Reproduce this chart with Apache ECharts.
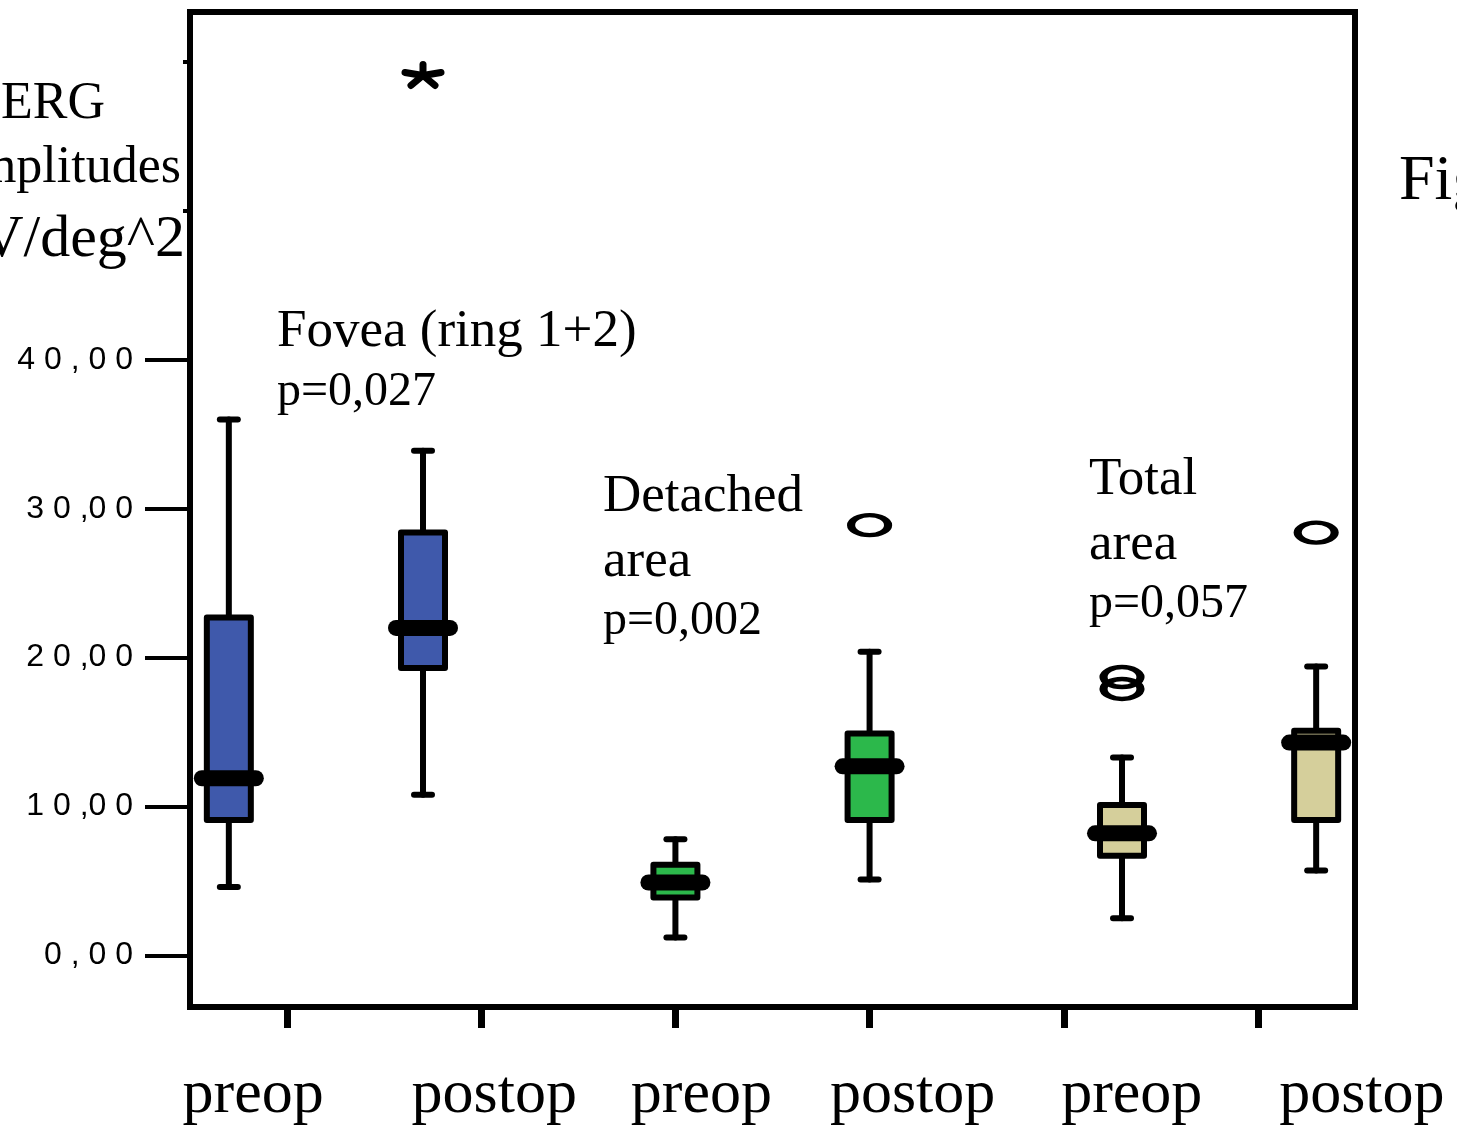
<!DOCTYPE html>
<html>
<head>
<meta charset="utf-8">
<script src="https://cdn.jsdelivr.net/npm/echarts@6/dist/echarts.min.js"></script>
<style>
	html, body { margin: 0; padding: 0; background: #fff; }
	#main { width: 1457px; height: 1130px; }
</style>
</head>
<body>
<div id="main"></div>
<script>
/* 類別與數值 */
const groups = ["preop", "postop", "preop", "postop", "preop", "postop"];
const boxPos = [0.2, 1.2, 2.5, 3.5, 4.8, 5.8];
const whiskerLow = [4.6, 10.8, 1.2, 5.1, 2.5, 5.7];
const q1 = [9.1, 19.3, 3.9, 9.1, 6.7, 9.1];
const median = [11.9, 22.0, 4.9, 12.7, 8.2, 14.3];
const q3 = [22.7, 28.4, 6.1, 14.9, 10.1, 15.1];
const whiskerHigh = [36.0, 33.9, 7.8, 20.4, 13.3, 19.4];
const outlierX = [3.5, 4.8, 4.8, 5.8];
const outlierY = [28.9, 18.7, 17.9, 28.4];
const extremeX = [1.2];
const extremeY = [59.1];
const yTickValues = [0, 10, 20, 30, 40];
const yTickLabels = ["0 , 0 0", "1 0 ,0 0", "2 0 ,0 0", "3 0 ,0 0", "4 0 , 0 0"];
const yTickMarks = [0, 10, 20, 30, 40, 50, 60];

/* 樣式 */
const boxColors = ["#3f59ab", "#3f59ab", "#2cb84b", "#2cb84b", "#d5cf9b", "#d5cf9b"];
const labelShift = [-34, 13, 26, 43, 68, 104];
const serif = "'Liberation Serif', 'Times New Roman', serif";

const chart = echarts.init(document.getElementById("main"));

const boxData = boxPos.map((x, i) => [x, whiskerLow[i], q1[i], median[i], q3[i], whiskerHigh[i]]);
const outlierData = outlierX.map((x, i) => [x, outlierY[i]]);
const extremeData = extremeX.map((x, i) => [x, extremeY[i]]);

const rich = {};
labelShift.forEach((s, i) => {
	rich["s" + i] = {
		fontFamily: serif,
		fontSize: 62,
		color: "#000",
		padding: s >= 0 ? [0, 0, 0, 2 * s] : [0, -2 * s, 0, 0],
	};
});

function renderBox(params, api) {
	const x = api.value(0);
	const lo = api.coord([x, api.value(1)]);
	const b1 = api.coord([x, api.value(2)]);
	const md = api.coord([x, api.value(3)]);
	const b3 = api.coord([x, api.value(4)]);
	const hi = api.coord([x, api.value(5)]);
	const cx = lo[0];
	const line = { stroke: "#000", lineWidth: 6, lineCap: "round" };
	return {
		type: "group",
		children: [
			{ type: "line", shape: { x1: cx, y1: lo[1], x2: cx, y2: b1[1] }, style: line },
			{ type: "line", shape: { x1: cx, y1: b3[1], x2: cx, y2: hi[1] }, style: line },
			{ type: "line", shape: { x1: cx - 9, y1: lo[1], x2: cx + 9, y2: lo[1] }, style: line },
			{ type: "line", shape: { x1: cx - 9, y1: hi[1], x2: cx + 9, y2: hi[1] }, style: line },
			{
				type: "rect",
				shape: { x: cx - 22, y: b3[1], width: 44, height: b1[1] - b3[1] },
				style: { fill: boxColors[params.dataIndex], stroke: "#000", lineWidth: 6, lineJoin: "round" },
			},
			{
				type: "rect",
				shape: { x: cx - 35, y: md[1] - 8, width: 70, height: 16, r: 8 },
				style: { fill: "#000" },
			},
		],
	};
}

function renderExtreme(params, api) {
	const p = api.coord([api.value(0), api.value(1)]);
	const arms = [[0, -11], [-18, -3], [18, -3], [-12, 10], [12, 10]];
	return {
		type: "group",
		children: arms.map((a) => ({
			type: "line",
			shape: { x1: p[0], y1: p[1], x2: p[0] + a[0], y2: p[1] + a[1] },
			style: { stroke: "#000", lineWidth: 7, lineCap: "round" },
		})),
	};
}

function txt(text, x, y, size, align) {
	return {
		type: "text",
		x: x,
		y: y,
		z: 20,
		style: {
			text: text,
			fontFamily: serif,
			fontSize: size,
			fill: "#000",
			align: align || "left",
			verticalAlign: "middle",
		},
	};
}

chart.setOption({
	animation: false,
	backgroundColor: "#fff",
	grid: {
		left: 190,
		right: 102,
		top: 12,
		bottom: 123,
		show: true,
		borderColor: "#000",
		borderWidth: 6,
		backgroundColor: "transparent",
	},
	xAxis: [
		{
			type: "category",
			data: groups,
			boundaryGap: true,
			axisLine: { show: false, onZero: false },
			axisTick: {
				show: true,
				alignWithLabel: true,
				length: 21,
				lineStyle: { color: "#000", width: 7 },
			},
			axisLabel: {
				show: true,
				margin: 58,
				interval: 0,
				formatter: (val, idx) => `{s${idx}|${val}}`,
				rich: rich,
			},
			splitLine: { show: false },
		},
		{
			type: "value",
			min: 0,
			max: 6,
			show: false,
		},
	],
	yAxis: {
		type: "value",
		min: -3.46,
		max: 63.36,
		axisLine: { show: false },
		splitLine: { show: false },
		axisTick: {
			show: true,
			customValues: yTickMarks,
			length: 45,
			lineStyle: { color: "#000", width: 4 },
		},
		axisLabel: {
			customValues: yTickValues,
			margin: 57,
			fontFamily: "'Liberation Sans', Arial, sans-serif",
			fontSize: 32,
			color: "#000",
			formatter: (v) => yTickLabels[yTickValues.indexOf(Math.round(v))] || "",
		},
	},
	series: [
		{
			type: "custom",
			xAxisIndex: 1,
			renderItem: renderBox,
			clip: false,
			data: boxData,
			z: 5,
		},
		{
			type: "scatter",
			xAxisIndex: 1,
			symbol: "circle",
			symbolSize: [37, 20],
			itemStyle: { color: "rgba(0,0,0,0)", borderColor: "#000", borderWidth: 6, opacity: 1 },
			data: outlierData,
			z: 6,
		},
		{
			type: "custom",
			xAxisIndex: 1,
			renderItem: renderExtreme,
			clip: false,
			data: extremeData,
			z: 6,
		},
	],
	graphic: [
		{ type: "rect", z: 19, shape: { x: 0, y: 40, width: 183, height: 240 }, style: { fill: "#fff" } },
		txt("ERG", 105, 104, 52, "right"),
		txt("amplitudes", 181, 168, 52, "right"),
		txt("nV/deg^2", 185, 240, 60, "right"),
		txt("Fig", 1399, 182, 64),
		txt("Fovea (ring 1+2)", 277, 332, 53),
		txt("p=0,027", 277, 392, 48),
		txt("Detached", 603, 497, 53),
		txt("area", 603, 562, 53),
		txt("p=0,002", 603, 621, 48),
		txt("Total", 1089, 480, 53),
		txt("area", 1089, 545, 53),
		txt("p=0,057", 1089, 604, 48),
	],
});
</script>
</body>
</html>
